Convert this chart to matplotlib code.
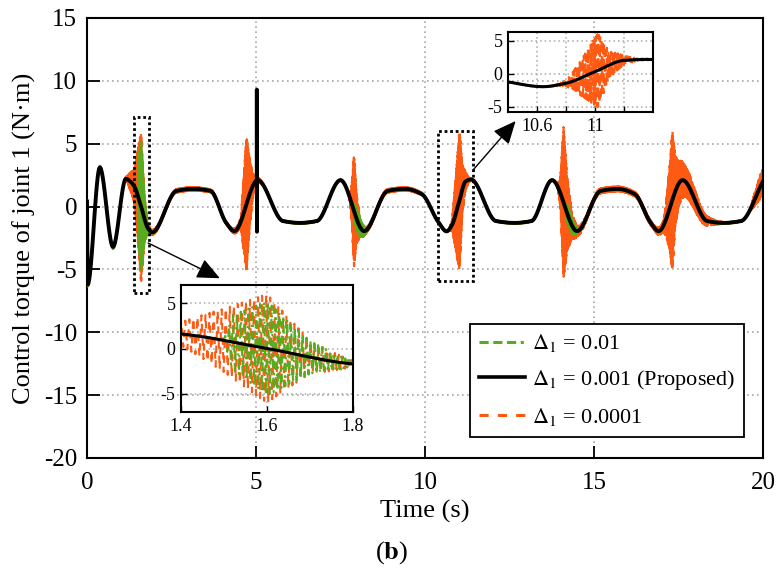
import numpy as np
import matplotlib
matplotlib.use("Agg")
import matplotlib.pyplot as plt
from matplotlib.patches import Rectangle
from matplotlib.lines import Line2D

plt.rcParams["font.family"] = ["Liberation Serif", "DejaVu Serif"]
plt.rcParams["mathtext.fontset"] = "stix"
plt.rcParams["axes.unicode_minus"] = False
plt.rcParams["path.simplify"] = False

ORANGE = "#FF5A14"
GREEN = "#5AAA1E"
GRID = "#a8a8a8"

# proposed controller (black) - key points
t_key = [0.0, 0.02, 0.38, 0.77, 1.15, 1.3, 1.4, 1.6, 1.8, 1.93,
         2.65, 3.14, 3.65, 4.12, 4.36, 5.05, 5.8, 6.3, 6.8, 7.5,
         8.2, 8.9, 9.42, 9.9, 10.4, 10.64, 10.8, 11.0, 11.2, 11.36,
         12.1, 12.65, 13.15, 13.76, 14.5, 15.2, 15.7, 16.2, 16.68, 16.91,
         17.62, 18.35, 18.82, 19.35, 20.0]
v_key = [0.4, -6.2, 3.1, -3.2, 2.2, 1.95, 1.6, 0.0, -1.7, -2.05,
         1.25, 1.4, 1.25, -1.3, -1.95, 2.1, -1.15, -1.3, -1.15, 2.1,
         -1.95, 1.25, 1.4, 1.0, -1.25, -1.97, -1.45, 0.3, 2.0, 2.15,
         -1.15, -1.3, -1.15, 2.1, -1.95, 1.25, 1.4, 1.0, -1.3, -1.95,
         2.1, -1.15, -1.3, -1.15, 2.0]

# short spike of the black curve near t = 5 s
spike_t = [5.02, 5.025, 5.03, 5.035]
spike_v = [2.0, 9.3, -2.0, 2.05]

# chattering envelope (half peak-to-peak) for delta = 0.0001
orange_env_t = [0.0, 1.1, 1.2, 1.3, 1.4, 1.5, 1.6, 1.7, 1.8, 1.9,
                2.2, 3.8, 4.2, 4.55, 4.62, 4.72, 4.82, 4.92, 5.05, 5.3,
                7.75, 7.82, 7.9, 7.97, 8.1, 8.3, 8.6, 9.8, 10.2, 10.7,
                10.8, 10.9, 11.02, 11.1, 11.2, 11.3, 11.5, 13.9, 14.0, 14.1,
                14.2, 14.35, 14.5, 14.8, 16.3, 16.8, 17.05, 17.15, 17.25, 17.32,
                17.4, 17.5, 17.7, 18.0, 18.3, 18.6, 18.9, 19.6, 19.75, 19.9, 20.0]
orange_env_a = [0.05, 0.05, 0.3, 0.8, 1.3, 3.5, 6.0, 1.8, 0.35, 0.2,
                0.15, 0.12, 0.1, 0.3, 2.5, 5.3, 2.5, 0.8, 0.2, 0.05,
                0.05, 1.0, 4.4, 2.0, 0.5, 0.2, 0.15, 0.12, 0.05, 0.05,
                0.4, 2.6, 5.6, 2.0, 0.7, 0.15, 0.05, 0.05, 1.0, 6.0,
                3.0, 1.0, 0.4, 0.2, 0.18, 0.2, 0.4, 1.6, 3.6, 5.6,
                2.8, 1.8, 1.2, 0.8, 0.4, 0.15, 0.05, 0.05, 0.5, 0.9, 1.0]

# chattering envelope for delta = 0.01
green_env_t = [0.0, 0.9, 1.1, 1.5, 1.52, 1.6, 1.7, 1.8, 1.9, 2.0,
               7.88, 7.92, 8.05, 8.2, 8.3, 14.15, 14.2, 14.35, 14.45, 14.55, 20.0]
green_env_a = [0.15, 0.15, 0.05, 0.1, 3.0, 5.2, 1.8, 0.25, 0.1, 0.05,
               0.05, 0.7, 0.8, 0.4, 0.05, 0.05, 0.7, 0.6, 0.3, 0.05, 0.05]

LEGEND = [r"$\Delta_1$ = 0.01", r"$\Delta_1$ = 0.001 (Proposed)", r"$\Delta_1$ = 0.0001"]


def pchip(x, y, xq):
    x = np.asarray(x, float)
    y = np.asarray(y, float)
    h = np.diff(x)
    d = np.diff(y) / h
    m = np.zeros_like(y)
    m[0], m[-1] = d[0], d[-1]
    for k in range(1, len(x) - 1):
        if d[k - 1] * d[k] > 0:
            w1 = 2 * h[k] + h[k - 1]
            w2 = h[k] + 2 * h[k - 1]
            m[k] = (w1 + w2) / (w1 / d[k - 1] + w2 / d[k])
    i = np.clip(np.searchsorted(x, xq) - 1, 0, len(x) - 2)
    s = (xq - x[i]) / h[i]
    h00 = 2 * s**3 - 3 * s**2 + 1
    h10 = s**3 - 2 * s**2 + s
    h01 = -2 * s**3 + 3 * s**2
    h11 = s**3 - s**2
    return h00 * y[i] + h10 * h[i] * m[i] + h01 * y[i + 1] + h11 * h[i] * m[i + 1]


def chatter(env_t, env_a, dt):
    tc = np.arange(0.0, 20.0 + dt / 2, dt)
    base = pchip(t_key, v_key, tc)
    sgn = np.where(np.arange(tc.size) % 2 == 0, 1.0, -1.0)
    return tc, base + sgn * np.interp(tc, env_t, env_a)


t_bl = np.linspace(0, 20, 20001)
v_bl = pchip(t_key, v_key, t_bl)
t_bl = np.concatenate([t_bl, spike_t])
v_bl = np.concatenate([v_bl, spike_v])
order = np.argsort(t_bl, kind="stable")
t_bl, v_bl = t_bl[order], v_bl[order]

t_or, v_or = chatter(orange_env_t, orange_env_a, 0.0047)
t_gr, v_gr = chatter(green_env_t, green_env_a, 0.0045)

fig = plt.figure(figsize=(7.84, 5.74), dpi=100)
ax = fig.add_axes([87 / 784, 1 - 458 / 574, 676 / 784, 440 / 574])


def draw(a, lw_k, lw_c):
    a.plot(t_or, v_or, color=ORANGE, lw=lw_c, dashes=(3.5, 3.5), zorder=2)
    a.plot(t_gr, v_gr, color=GREEN, lw=lw_c, dashes=(4, 2, 1, 2), zorder=3)
    a.plot(t_bl, v_bl, color="k", lw=lw_k, zorder=4)


draw(ax, 2.8, 1.6)
ax.set_xlim(0, 20)
ax.set_ylim(-20, 15)
ax.set_xticks([0, 5, 10, 15, 20])
ax.set_yticks(range(-20, 16, 5))
ax.grid(True, color=GRID, linestyle=(0, (1, 2)), lw=1.2)
ax.tick_params(direction="in", length=9, width=1.3, labelsize=18)
ax.tick_params(axis="x", pad=10)
ax.tick_params(axis="y", pad=7)
for sp in ax.spines.values():
    sp.set_linewidth(1.5)
ax.set_xlabel("Time (s)", fontsize=19, labelpad=4)
ax.set_ylabel("Control torque of joint 1 (N·m)", fontsize=19, labelpad=6)

# zoom boxes and arrows
ax.add_patch(Rectangle((1.39, -6.9), 0.44, 14.0, fill=False, ec="k",
                       lw=2, ls=(0, (1, 1)), zorder=6))
ax.add_patch(Rectangle((10.38, -5.9), 1.04, 11.9, fill=False, ec="k",
                       lw=2, ls=(0, (1, 1)), zorder=6))
arrow = dict(arrowstyle="-|>,head_length=1.0,head_width=0.45", color="k",
             lw=1.0, mutation_scale=14, shrinkA=0, shrinkB=0)
ax.annotate("", xy=(3.93, -5.7), xytext=(1.81, -2.9), arrowprops=arrow, zorder=6)
ax.annotate("", xy=(12.68, 6.8), xytext=(11.42, 2.9), arrowprops=arrow, zorder=6)

handles = [Line2D([], [], color=GREEN, lw=2.2, dashes=(3, 1.5, 3, 1.5, 3, 1.5, 1, 1.5)),
           Line2D([], [], color="k", lw=2.6),
           Line2D([], [], color=ORANGE, lw=2.2, dashes=(3, 3))]
leg = ax.legend(handles, LEGEND, loc="lower right", bbox_to_anchor=(0.972, 0.048),
                borderaxespad=0, fontsize=16, fancybox=False, framealpha=1,
                edgecolor="k", handlelength=2.1, labelspacing=0.62,
                handletextpad=0.3, borderpad=0.4)
leg.get_frame().set_linewidth(1.3)
leg.set_zorder(7)

# inset 1
ax1 = fig.add_axes([181 / 784, 1 - 412 / 574, 172 / 784, 127 / 574])
ax1.set_facecolor("none")
draw(ax1, 2.2, 1.5)
ax1.set_xlim(1.4, 1.8)
ax1.set_ylim(-7, 7)
ax1.set_xticks([1.4, 1.6, 1.8])
ax1.set_yticks([-5, 0, 5])
ax1.grid(True, color=GRID, linestyle=(0, (1, 2)), lw=1.1)
ax1.tick_params(direction="in", length=4, width=1.0, labelsize=13, pad=4)
for sp in ax1.spines.values():
    sp.set_linewidth(1.5)

# inset 2
ax2 = fig.add_axes([508 / 784, 1 - 112 / 574, 145 / 784, 80 / 574])
ax2.set_facecolor("none")
draw(ax2, 2.2, 1.5)
ax2.set_xlim(10.4, 11.4)
ax2.set_ylim(-5.8, 6.3)
ax2.set_xticks([10.6, 10.8, 11.0, 11.2])
ax2.set_xticklabels(["10.6", "", "11", ""])
ax2.set_yticks([-5, 0, 5])
ax2.grid(True, color=GRID, linestyle=(0, (1, 2)), lw=1.1)
ax2.tick_params(direction="in", length=4, width=1.0, labelsize=13, pad=4)
for sp in ax2.spines.values():
    sp.set_linewidth(1.5)

fig.text(0.5, 1 - 553 / 574, r"($\mathbf{b}$)", ha="center", va="center", fontsize=19)

fig.savefig("out.png", dpi=100)
